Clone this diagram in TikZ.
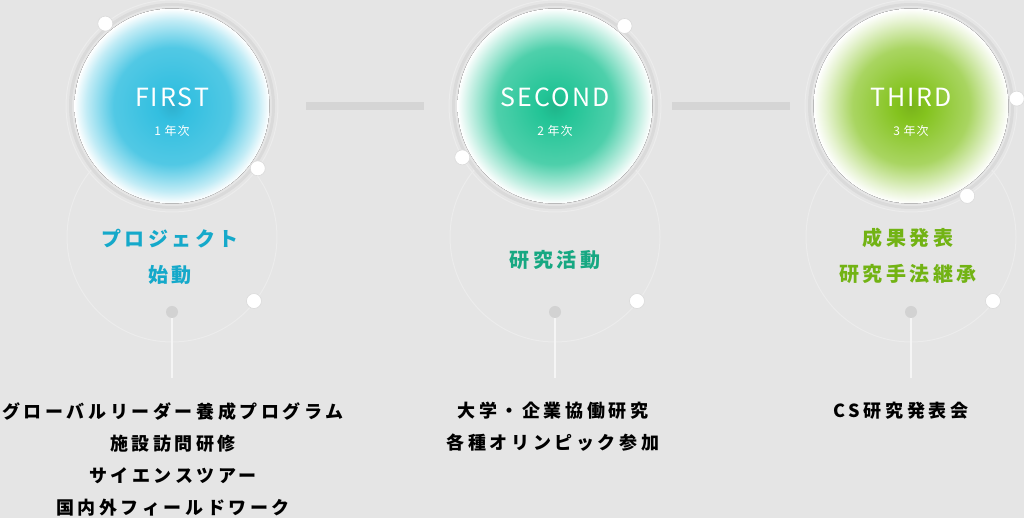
\documentclass[tikz,border=0pt]{standalone}
\usepackage{fontspec}
\usetikzlibrary{calc}
\setmainfont{Noto Sans CJK JP}
\newfontfamily\titlefont[LetterSpace=8]{Noto Sans CJK JP}
\newfontfamily\labelfont[LetterSpace=18]{Noto Sans CJK JP}
\newfontfamily\listfont[LetterSpace=20]{Noto Sans CJK JP}

\definecolor{bggray}{HTML}{E5E5E5}
\definecolor{bandgray}{HTML}{DADADA}
\definecolor{bargray}{HTML}{D5D5D5}
\definecolor{pingray}{HTML}{D2D2D2}
\definecolor{firstcol}{HTML}{33BFE0}
\definecolor{secondcol}{HTML}{22C496}
\definecolor{thirdcol}{HTML}{84C31E}
\definecolor{firsttext}{HTML}{15A9CA}
\definecolor{secondtext}{HTML}{17A882}
\definecolor{thirdtext}{HTML}{72B314}

\pgfdeclareradialshading{glowfirst}{\pgfpoint{0bp}{0bp}}{color(0bp)=(firstcol!92!black); color(4bp)=(firstcol); color(15bp)=(firstcol!85!white); color(22bp)=(firstcol!30!white); color(25bp)=(white); color(50bp)=(white)}
\pgfdeclareradialshading{glowsecond}{\pgfpoint{0bp}{0bp}}{color(0bp)=(secondcol!92!black); color(4bp)=(secondcol); color(15bp)=(secondcol!80!white); color(22bp)=(secondcol!25!white); color(25bp)=(white); color(50bp)=(white)}
\pgfdeclareradialshading{glowthird}{\pgfpoint{0bp}{0bp}}{color(0bp)=(thirdcol!92!black); color(4bp)=(thirdcol); color(15bp)=(thirdcol!70!white); color(22bp)=(thirdcol!20!white); color(25bp)=(white); color(50bp)=(white)}

\tikzstyle{dot}=[circle,fill=white,draw=bandgray,line width=0.6pt,minimum size=15pt,inner sep=0pt]
\tikzstyle{pin dot}=[circle,fill=pingray,minimum size=12pt,inner sep=0pt]
\tikzstyle{pin line} = [draw,line width=1.6pt,white!92!gray]
\tikzstyle{bar} = [draw,line width=8pt,bargray]
\tikzstyle{band} = [draw,line width=3pt,bandgray]
\tikzstyle{thin ring} = [draw,line width=1pt,white!85!gray]
\tikzstyle{title text}=[text=white,font=\titlefont\fontsize{25}{30}\selectfont,inner sep=0pt]
\tikzstyle{year text}=[text=white,font=\titlefont\fontsize{12}{14}\selectfont,inner sep=0pt]
\tikzstyle{stage label}=[align=center,font=\labelfont\bfseries\fontsize{20}{36}\selectfont,inner sep=0pt]
\tikzstyle{plan list}=[align=center,font=\listfont\bfseries\fontsize{18}{32}\selectfont,inner sep=0pt]

\begin{document}
\begin{tikzpicture}[x=1pt,y=1pt]
	\fill[bggray] (0,0) rectangle (1024,518);
	\useasboundingbox (0,0) rectangle (1024,518);
	% bars between the stages
	\coordinate (bar1a) at (306,412);
	\coordinate (bar1b) at (424,412);
	\coordinate (bar2a) at (672,412);
	\coordinate (bar2b) at (790,412);
	\path[bar] (bar1a) -- (bar1b);
	\path[bar] (bar2a) -- (bar2b);
	% the three stages
	\foreach \name/\x/\title/\year/\a/\b in {first/172/FIRST/1/129/-36, second/555/SECOND/2/49/209, third/911/THIRD/3/4/-58}
	{
		\coordinate (\name) at (\x,412);
		\coordinate (\name low) at (\x,281);
		\path[thin ring] (\name low) circle (105);
		\path[band] (\name) circle (101.5);
		\path[thin ring] (\name) circle (106);
		\fill[shading=glow\name] (\name) circle (97.5);
		\node[title text] (\name title) at (\x,421) {\title};
		\node[year text] (\name year) at (\x,387) {\year\ 年次};
		\node[dot] (\name dot a) at ($(\name)+(\a:106)$) {};
		\node[dot] (\name dot b) at ($(\name)+(\b:106)$) {};
		\node[dot] (\name dot c) at ($(\name low)+(-38:104)$) {};
		\node[pin dot] (\name pin) at (\x,206) {};
		\coordinate (\name end) at (\x,140);
		\path[pin line] (\name pin) -- (\name end);
	}
	% labels inside the lower circles
	\node[stage label,text=firsttext] (first label) at (170,261.5) {プロジェクト\\始動};
	\node[stage label,text=secondtext] (second label) at (555,258) {研究活動};
	\node[stage label,text=thirdtext] (third label) at (908,262) {成果発表\\研究手法継承};
	% activities below
	\node[plan list] (first list) at (173,59) {グローバルリーダー養成プログラム\\施設訪問研修\\サイエンスツアー\\国内外フィールドワーク};
	\node[plan list] (second list) at (553,91) {大学・企業協働研究\\各種オリンピック参加};
	\node[plan list] (third list) at (901,107) {CS研究発表会};
\end{tikzpicture}
\end{document}
